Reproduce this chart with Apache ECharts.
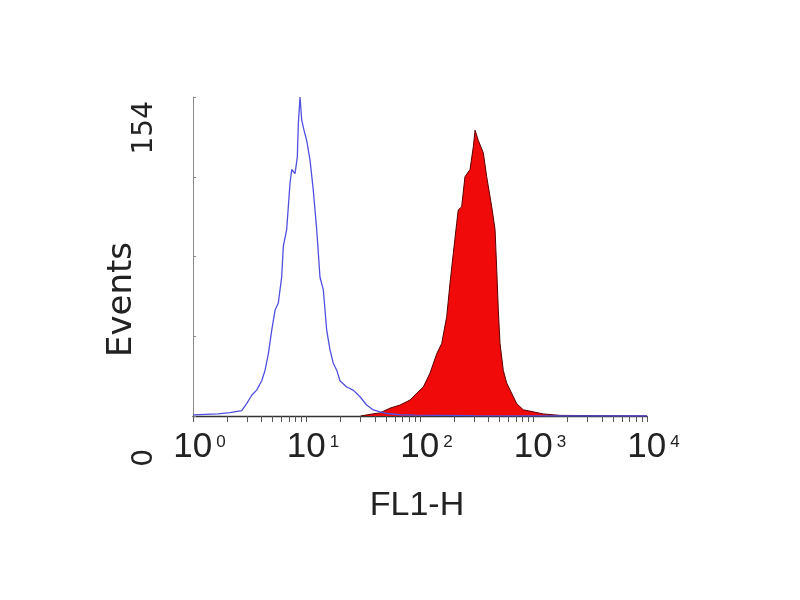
<!DOCTYPE html>
<html><head><meta charset="utf-8">
<script src="https://cdn.jsdelivr.net/npm/echarts@6/dist/echarts.min.js"></script>
<style>html,body{margin:0;padding:0;background:#fff}#c{width:800px;height:600px}</style>
</head><body><div id="c"></div>
<script>
// Unstained control (blue outline) : FL1-H channel value -> events
const blueX = [1.0, 1.28, 1.66, 2.12, 2.69, 2.97, 3.29, 3.64, 4.03, 4.31, 4.61, 4.94, 5.28, 5.64, 6.04, 6.25, 6.69, 7.16, 7.41, 7.92, 8.30, 8.47, 8.77, 9.07, 9.50, 10.04, 10.74, 11.48, 12.30, 13.15, 14.06, 15.06, 16.1, 17.2, 18.5, 19.7, 22.6, 25.8, 29.6, 33.9, 38.8, 44.4, 51.2, 66.7, 90, 150, 300, 1000, 10000];
const blueY = [0.5, 0.8, 1.0, 1.6, 2.6, 6, 10, 12.5, 17, 22, 30, 41.5, 51, 54.5, 67, 82, 90, 112.5, 119, 117, 125, 141, 154, 143, 138, 133, 123.5, 109, 90, 67, 61, 41.5, 32, 25.5, 22, 17, 14, 12.5, 9.3, 5.3, 2.9, 2, 1.2, 0.6, 0.4, 0.3, 0.2, 0.1, 0];
// Stained sample (red filled)
const redX = [30, 36.3, 44.4, 54.4, 66.7, 81.6, 93.5, 106.9, 122.5, 140.3, 155.3, 171.9, 183.7, 196.5, 210.4, 217.3, 232.8, 249, 275.8, 295, 305.6, 326.6, 361.4, 387, 428.5, 458.4, 474.5, 490, 507, 542, 580, 642, 711, 813, 995, 1219, 1711, 10000];
const redY = [0, 0.8, 1.5, 3.8, 5.3, 7.7, 11, 14, 20.7, 30, 35, 48, 64, 78.5, 93, 99.5, 101, 115.5, 119, 130, 138, 133, 127, 115.5, 101, 90, 70.5, 51, 35, 22, 16, 11, 6, 3, 2, 1, 0.3, 0];
// Axis ticks
const xDecades = [0, 1, 2, 3, 4];          // labels 10^0 ... 10^4
const yMax = 154;
const yLabelValues = [0, 154];
const xAxisName = 'FL1-H';
const yAxisName = 'Events';

const toLog = (xs, ys) => xs.map((x, i) => [Math.log10(x), ys[i]]);
const minorTickValues = [];
for (let d = 0; d < 4; d++) for (let k = 1; k <= 9; k++) minorTickValues.push(Math.log10(k * Math.pow(10, d)));
minorTickValues.push(4);

const sans = "'Liberation Sans', Arial, sans-serif";
const wide = "'DejaVu Sans', 'Liberation Sans', sans-serif";

const chart = echarts.init(document.getElementById('c'));
chart.setOption({
  backgroundColor: '#ffffff',
  animation: false,
  grid: { left: 193, right: 153, top: 97, bottom: 184 },
  xAxis: {
    type: 'value', min: xDecades[0], max: xDecades[xDecades.length - 1], interval: 1,
    name: xAxisName, nameLocation: 'middle', nameGap: 73, nameMoveOverlap: false,
    nameTextStyle: { fontFamily: sans, fontSize: 34, color: '#222', padding: [0, 6, 0, 0] },
    axisLine: { lineStyle: { color: '#333', width: 1.3 } },
    axisTick: { show: true, length: 6, customValues: minorTickValues, lineStyle: { color: '#555', width: 1 } },
    splitLine: { show: false },
    axisLabel: {
      margin: 14, color: '#222', padding: [0, 0, 0, 13],
      formatter: v => '{b|10}{s|' + Math.round(v) + '}',
      rich: {
        b: { fontFamily: sans, fontSize: 35, color: '#222' },
        s: { fontFamily: sans, fontSize: 17, color: '#222', verticalAlign: 'top', padding: [4, 0, 0, 4] }
      }
    }
  },
  yAxis: {
    type: 'value', min: 0, max: yMax, interval: yMax / 4,
    name: yAxisName, nameLocation: 'middle', nameGap: 54, nameMoveOverlap: false,
    nameTextStyle: { fontFamily: wide, fontSize: 34, color: '#222', padding: [0, 86, 0, 0] },
    axisLine: { show: true, lineStyle: { color: '#888', width: 1 } },
    axisTick: { show: true, inside: true, length: 3, lineStyle: { color: '#888' } },
    splitLine: { show: false },
    axisLabel: {
      rotate: 90, margin: 34, align: 'right', color: '#222',
      fontFamily: wide, fontSize: 28,
      formatter: v => v === yLabelValues[1] ? '{t|' + v + '}' : (v === yLabelValues[0] ? '{z|' + v + '}' : ''),
      rich: {
        t: { fontFamily: wide, fontSize: 28, color: '#222', padding: [0, 4, 0, 0] },
        z: { fontFamily: wide, fontSize: 28, color: '#222', padding: [0, 33, 0, 0] }
      }
    }
  },
  series: [
    {
      type: 'line', name: 'stained', data: toLog(redX, redY), showSymbol: false, smooth: false,
      lineStyle: { color: '#5a0000', width: 1 },
      areaStyle: { color: '#f00a0a', opacity: 1 },
      z: 2
    },
    {
      type: 'line', name: 'control', data: toLog(blueX, blueY), showSymbol: false, smooth: false,
      lineStyle: { color: '#5050e0', width: 1.3 },
      z: 3
    }
  ]
});
</script></body></html>
